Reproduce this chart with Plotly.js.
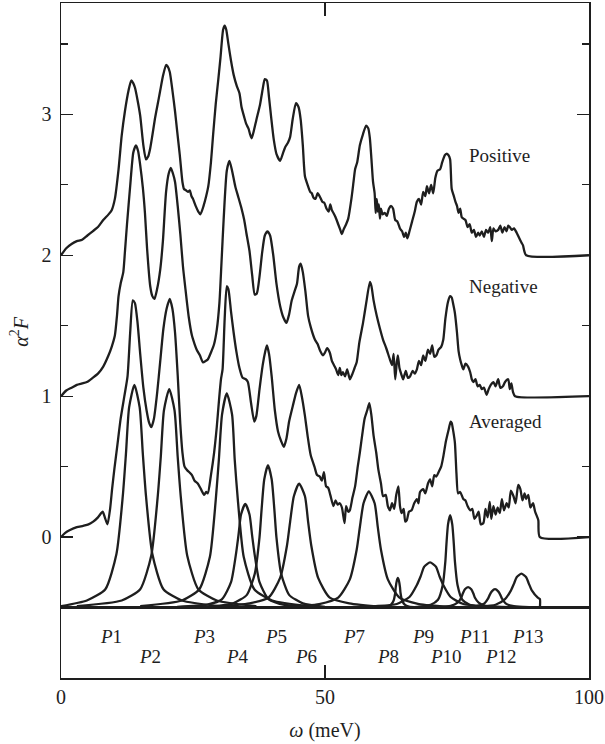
<!DOCTYPE html>
<html>
<head>
<meta charset="utf-8">
<script src="https://cdn.plot.ly/plotly-3.0.1.min.js"></script>
<style>html,body{margin:0;padding:0;background:#fff;}#chart{width:605px;height:744px;}</style>
</head>
<body>
<div id="chart"></div>
<script>
// ---- Data ----
// Spectrum "Positive" (offset +2)
const posX = [0,1,2,3,4,5,6,7,8,9,9.6,10.2,10.9,11.5,12.1,12.8,13.3,13.7,14.0,14.5,15.0,15.6,16.1,16.5,16.9,17.3,17.8,18.3,18.75,19.3,19.9,20.2,20.6,21.1,21.6,22.0,22.5,23.0,23.3,23.7,24.1,24.4,24.7,25.0,25.5,26.0,26.4,27.0,27.5,27.9,28.4,28.8,29.3,29.8,30.2,30.7,31.0,31.3,31.7,32.2,32.7,33.3,33.8,34.2,34.7,35.1,35.5,35.8,36.1,36.5,37.0,37.7,38.2,38.6,39.0,39.4,39.8,40.3,40.8,41.5,42.0,42.5,43.0,43.4,43.9,44.5,45.0,45.4,45.8,46.2,46.7,47.2,47.5,47.8,48.2,48.6,49.1,49.5,49.9,50.3,50.7,51.0,51.3,51.6,52.0,52.5,52.9,53.2,53.5,54.0,54.4,55.0,55.4,55.7,56.1,56.6,57.2,57.8,58.2,58.5,58.8,59.1,59.4,59.6,59.8,60.0,60.2,60.4,60.6,60.9,61.3,61.7,62.1,62.5,62.9,63.3,63.7,64.2,64.6,65.0,65.3,65.6,66.0,66.5,67.0,67.4,67.8,68.2,68.6,69.0,69.3,69.7,70.1,70.5,70.9,71.3,71.8,72.2,72.7,73.0,73.4,73.7,74.0,74.4,74.7,75.0,75.3,75.6,75.9,76.2,76.6,77.0,77.4,77.8,78.2,78.6,79.0,79.3,79.7,80.1,80.5,80.9,81.3,81.6,81.9,82.3,82.8,83.2,83.6,84.0,84.4,84.7,85.0,85.4,85.8,86.3,86.8,87.2,87.5,88.1,100];
const posY = [2.00,2.05,2.08,2.10,2.11,2.14,2.17,2.20,2.25,2.29,2.32,2.40,2.61,2.85,3.02,3.17,3.24,3.22,3.19,3.10,2.99,2.78,2.68,2.70,2.76,2.85,2.97,3.07,3.16,3.27,3.35,3.34,3.30,3.17,3.02,2.88,2.71,2.52,2.47,2.46,2.45,2.46,2.42,2.40,2.35,2.31,2.29,2.35,2.42,2.49,2.66,2.85,3.07,3.25,3.40,3.60,3.63,3.60,3.50,3.38,3.28,3.20,3.15,3.05,2.98,2.93,2.90,2.86,2.83,2.88,2.96,3.07,3.18,3.25,3.24,3.12,2.98,2.82,2.72,2.67,2.72,2.77,2.80,2.84,2.97,3.08,3.05,2.96,2.78,2.56,2.50,2.45,2.44,2.41,2.40,2.44,2.41,2.38,2.37,2.33,2.31,2.36,2.32,2.30,2.27,2.22,2.18,2.15,2.18,2.22,2.26,2.40,2.52,2.61,2.66,2.78,2.86,2.92,2.90,2.83,2.68,2.52,2.44,2.30,2.40,2.31,2.36,2.26,2.33,2.29,2.30,2.28,2.33,2.35,2.33,2.25,2.24,2.19,2.17,2.13,2.16,2.12,2.17,2.24,2.31,2.38,2.40,2.36,2.45,2.42,2.49,2.44,2.50,2.44,2.55,2.60,2.61,2.66,2.71,2.72,2.71,2.68,2.47,2.42,2.38,2.35,2.30,2.33,2.27,2.26,2.25,2.20,2.22,2.16,2.18,2.13,2.16,2.14,2.17,2.13,2.18,2.16,2.20,2.10,2.19,2.17,2.18,2.21,2.16,2.20,2.17,2.21,2.20,2.18,2.19,2.16,2.12,2.09,2.07,2.00,2.00];

// Spectrum "Negative" (offset +1)
const negX = [0,1,2,3,4,4.9,6,7,8,9,9.6,10.2,10.6,10.9,11.3,11.8,12.1,12.5,13.1,13.7,14.2,14.6,15.0,15.5,15.9,16.3,16.9,17.3,17.7,18.2,18.8,19.3,19.9,20.4,20.8,21.2,21.6,22.1,22.6,23.1,23.6,24.2,24.8,25.3,25.7,26.3,26.9,27.4,27.8,28.4,29.0,29.5,30.0,30.4,30.8,31.4,31.9,32.4,33.0,33.6,34.2,34.7,35.1,35.7,36.2,36.7,37.1,37.6,38.1,38.6,39.1,39.6,40.2,40.8,41.5,42.1,42.7,43.2,43.7,44.2,44.7,45.1,45.4,45.8,46.3,46.8,47.3,48.1,48.6,49.1,49.6,50.0,50.4,50.9,51.3,51.7,52.1,52.5,52.8,53.1,53.4,53.8,54.2,54.7,55.1,55.6,56.0,56.5,57.2,57.8,58.5,58.8,59.2,59.8,60.4,61.0,61.6,62.3,62.7,63.0,63.3,63.6,63.8,64.1,64.5,64.8,65.3,65.7,66.1,66.6,67.0,67.4,67.8,68.2,68.6,69.0,69.5,69.9,70.3,70.7,71.1,71.5,72.0,72.4,72.8,73.3,73.7,74.0,74.3,74.6,75.0,75.3,75.6,75.9,76.2,76.6,77.1,77.5,77.8,78.1,78.5,78.9,79.3,79.7,80.1,80.6,81.0,81.4,81.9,82.3,82.8,83.2,83.7,84.1,84.7,85.0,85.3,85.6,86.0,100];
const negY = [1.00,1.04,1.06,1.08,1.09,1.10,1.13,1.16,1.21,1.29,1.35,1.43,1.57,1.71,1.80,1.88,2.02,2.22,2.49,2.73,2.78,2.74,2.64,2.48,2.30,2.05,1.78,1.71,1.69,1.76,1.90,2.10,2.45,2.58,2.62,2.58,2.52,2.35,2.15,1.92,1.75,1.56,1.43,1.37,1.33,1.29,1.24,1.25,1.26,1.31,1.37,1.47,1.66,1.95,2.25,2.60,2.67,2.60,2.49,2.41,2.33,2.25,2.16,2.03,1.86,1.72,1.73,1.85,2.02,2.14,2.17,2.14,2.00,1.80,1.64,1.56,1.52,1.58,1.68,1.74,1.80,1.92,1.94,1.88,1.74,1.57,1.49,1.40,1.37,1.32,1.29,1.31,1.34,1.31,1.25,1.22,1.19,1.15,1.20,1.15,1.17,1.14,1.19,1.12,1.15,1.20,1.24,1.38,1.52,1.66,1.81,1.78,1.68,1.57,1.48,1.40,1.34,1.26,1.22,1.30,1.12,1.24,1.29,1.20,1.15,1.12,1.18,1.13,1.14,1.18,1.16,1.19,1.25,1.22,1.29,1.25,1.33,1.30,1.36,1.28,1.29,1.33,1.35,1.40,1.55,1.67,1.71,1.70,1.65,1.59,1.45,1.32,1.26,1.22,1.19,1.23,1.21,1.17,1.12,1.10,1.12,1.07,1.08,1.05,1.06,1.01,1.05,1.08,1.10,1.07,1.12,1.06,1.07,1.10,1.12,1.05,1.09,1.03,1.00,1.00];

// Spectrum "Averaged" (offset 0)
const avgX = [0,0.8,1.7,3,4.2,5.2,6.1,7.0,7.6,7.9,8.3,8.8,9.3,9.7,10.1,10.7,11.3,12.0,12.6,13.1,13.6,14.0,14.5,15.0,15.6,16.2,16.7,17.1,17.6,18.2,18.8,19.4,20.0,20.6,21.1,21.6,22.1,22.6,23.0,23.4,24.0,24.3,24.8,25.3,25.9,26.5,27.1,27.5,27.8,28.4,29.0,29.5,29.9,30.3,30.6,31.0,31.4,31.7,32.2,32.7,33.2,33.8,34.4,35.0,35.4,36.0,36.6,37.0,37.6,38.2,38.7,39.0,39.4,39.9,40.5,41.1,41.7,42.2,42.7,43.2,43.9,44.5,45.1,45.6,46.2,46.7,47.3,48.0,48.5,49.0,49.4,49.8,50.2,50.6,51.0,51.6,52.0,52.4,52.8,53.2,53.7,54.0,54.4,54.7,55.2,55.7,56.2,56.6,57.1,57.5,58.0,58.4,58.8,59.2,59.7,60.1,60.6,61.0,61.5,61.9,62.3,62.7,63.1,63.5,63.9,64.2,64.5,64.9,65.2,65.5,65.9,66.4,66.9,67.4,67.7,68.0,68.6,69.0,69.5,69.9,70.3,70.7,71.1,71.5,72.0,72.4,72.9,73.4,73.8,74.0,74.3,74.6,74.9,75.2,75.6,76.2,76.6,77.0,77.5,77.9,78.3,78.7,79.1,79.5,80.0,80.4,80.8,81.2,81.5,81.9,82.3,82.7,83.1,83.5,83.9,84.4,84.8,85.2,85.7,86.1,86.6,87.0,87.4,87.8,88.1,88.5,88.9,89.4,89.8,90.4,90.7,100];
const avgY = [0.00,0.03,0.05,0.07,0.08,0.09,0.11,0.14,0.17,0.18,0.14,0.09,0.20,0.35,0.48,0.66,0.84,1.00,1.14,1.45,1.68,1.66,1.52,1.30,1.06,0.90,0.81,0.78,0.84,1.02,1.25,1.48,1.62,1.69,1.62,1.45,1.15,0.80,0.60,0.50,0.47,0.46,0.44,0.40,0.38,0.34,0.30,0.32,0.31,0.44,0.60,0.78,0.96,1.12,1.19,1.55,1.78,1.76,1.60,1.45,1.32,1.20,1.13,1.12,1.10,0.95,0.82,0.86,1.05,1.22,1.32,1.36,1.30,1.14,0.90,0.75,0.68,0.64,0.70,0.82,0.93,1.02,1.08,1.00,0.86,0.72,0.58,0.50,0.44,0.43,0.40,0.46,0.36,0.35,0.30,0.22,0.26,0.23,0.24,0.21,0.10,0.22,0.18,0.19,0.28,0.36,0.50,0.60,0.74,0.84,0.90,0.95,0.86,0.72,0.60,0.48,0.38,0.29,0.30,0.22,0.19,0.24,0.20,0.30,0.36,0.22,0.17,0.20,0.11,0.12,0.18,0.19,0.24,0.27,0.24,0.32,0.34,0.31,0.38,0.41,0.36,0.44,0.43,0.46,0.50,0.57,0.68,0.76,0.82,0.81,0.75,0.67,0.45,0.31,0.32,0.27,0.26,0.22,0.19,0.20,0.13,0.15,0.18,0.09,0.10,0.20,0.14,0.25,0.13,0.22,0.16,0.21,0.17,0.27,0.19,0.24,0.21,0.33,0.29,0.24,0.37,0.34,0.26,0.31,0.27,0.30,0.21,0.24,0.18,0.12,0.00,0.00];

// Fitted peak components P1..P13 (baseline -0.5)
const peakNames = ['P1','P2','P3','P4','P5','P6','P7','P8','P9','P10','P11','P12','P13'];
const peakX = [
  [0,4.9,8.4,10.5,11.7,12.3,12.9,13.9,14.9,15.5,16.1,17.3,19.4,22.9,30],
  [3,11.5,15.0,17.1,18.3,18.9,19.5,20.5,21.5,22.1,22.7,23.9,26.0,29.5,37],
  [15,22.9,26.2,28.2,29.3,29.9,30.5,31.4,32.4,32.9,33.5,34.6,36.6,40.0,47],
  [22,27.7,30.5,32.2,33.1,33.6,34.1,34.9,35.7,36.2,36.7,37.6,39.3,42.1,48],
  [28,32.6,35.2,36.7,37.6,38.0,38.5,39.2,39.9,40.4,40.8,41.7,43.2,45.8,50],
  [29,35.7,39.3,41.5,42.8,43.4,44.1,45.1,46.2,46.8,47.4,48.7,50.9,54.6,61],
  [42,48.9,52.5,54.7,56.0,56.6,57.3,58.3,59.4,60.0,60.6,61.9,64.1,67.8,74],
  [60,61.7,62.5,63.0,63.3,63.4,63.6,63.8,64.0,64.2,64.3,64.6,65.1,65.9,67.5],
  [52,59.6,63.6,66.0,67.4,68.1,68.8,69.9,71.0,71.7,72.4,73.8,76.2,80.2,88],
  [66,70.0,71.4,72.3,72.8,73.0,73.3,73.7,74.1,74.4,74.6,75.1,76.0,77.4,81],
  [68,71.7,73.8,75.1,75.8,76.1,76.5,77.1,77.7,78.1,78.4,79.1,80.4,82.5,86],
  [73,76.8,78.9,80.2,80.9,81.2,81.6,82.2,82.8,83.2,83.5,84.2,85.5,87.6,90.7],
  [74,79.1,82.3,84.1,85.2,85.8,86.3,87.2,88.1,88.6,89.2,90.3,90.7,90.7]
];
const peakY = [
  [-0.49,-0.45,-0.37,-0.12,0.29,0.59,0.92,1.08,0.92,0.59,0.29,-0.12,-0.37,-0.45,-0.49],
  [-0.49,-0.45,-0.37,-0.13,0.28,0.57,0.90,1.05,0.90,0.57,0.28,-0.13,-0.37,-0.45,-0.49],
  [-0.49,-0.45,-0.37,-0.14,0.26,0.55,0.87,1.02,0.87,0.55,0.26,-0.14,-0.37,-0.45,-0.49],
  [-0.495,-0.48,-0.44,-0.32,-0.13,0.01,0.16,0.235,0.16,0.01,-0.13,-0.32,-0.44,-0.48,-0.495],
  [-0.495,-0.47,-0.41,-0.26,0.0,0.2,0.41,0.51,0.41,0.2,0.0,-0.26,-0.41,-0.47,-0.495],
  [-0.495,-0.47,-0.43,-0.29,-0.06,0.11,0.29,0.38,0.29,0.11,-0.06,-0.29,-0.43,-0.47,-0.495],
  [-0.495,-0.475,-0.43,-0.30,-0.09,0.07,0.24,0.325,0.24,0.07,-0.09,-0.30,-0.43,-0.475,-0.495],
  [-0.5,-0.494,-0.48,-0.45,-0.395,-0.355,-0.31,-0.29,-0.31,-0.355,-0.395,-0.45,-0.48,-0.494,-0.5],
  [-0.5,-0.49,-0.475,-0.425,-0.34,-0.28,-0.21,-0.18,-0.21,-0.28,-0.34,-0.425,-0.475,-0.49,-0.5],
  [-0.5,-0.48,-0.445,-0.34,-0.17,-0.05,0.09,0.155,0.09,-0.05,-0.17,-0.34,-0.445,-0.48,-0.5],
  [-0.5,-0.496,-0.488,-0.465,-0.43,-0.40,-0.37,-0.355,-0.37,-0.40,-0.43,-0.465,-0.488,-0.496,-0.5],
  [-0.5,-0.496,-0.489,-0.47,-0.435,-0.41,-0.385,-0.37,-0.385,-0.41,-0.435,-0.47,-0.489,-0.496,-0.5],
  [-0.5,-0.493,-0.48,-0.44,-0.38,-0.33,-0.285,-0.26,-0.285,-0.33,-0.38,-0.43,-0.44,-0.5]
];
const baseX = [0, 100];
const baseY = [-0.5, -0.5];

const seriesNames = ['Positive', 'Negative', 'Averaged'];
const xTicks = [0, 50, 100];
const yTicks = [0, 1, 2, 3];
const yMinorTicks = [0.5, 1.5, 2.5, 3.5];

// ---- Drawing ----
const INK = '#1e1e1e';
const FONT = '"Liberation Serif", "DejaVu Serif", serif';
const lineStyle = {color: INK, width: 2.3, shape: 'spline', smoothing: 0.6};

const traces = [];
traces.push({x: baseX, y: baseY, mode: 'lines', line: {color: INK, width: 3}, hoverinfo: 'skip'});
peakX.forEach((xs, i) => {
  traces.push({x: xs, y: peakY[i], name: peakNames[i], mode: 'lines', line: lineStyle, hoverinfo: 'skip'});
});
[[posX, posY], [negX, negY], [avgX, avgY]].forEach((d, i) => {
  traces.push({x: d[0], y: d[1], name: seriesNames[i], mode: 'lines', line: lineStyle, hoverinfo: 'skip'});
});

// label placement (data coordinates)
const seriesLabelX = 76.9;
const seriesLabelY = [2.71, 1.775, 0.817];
const peakLabelX = [9.5, 16.9, 27.0, 33.4, 40.7, 46.4, 55.5, 61.9, 68.5, 72.9, 78.4, 83.3, 88.4];
const rowY = [-0.705, -0.848];

const annotations = [];
seriesNames.forEach((s, i) => {
  annotations.push({x: seriesLabelX, y: seriesLabelY[i], xref: 'x', yref: 'y', text: s, showarrow: false,
    xanchor: 'left', yanchor: 'middle', font: {family: FONT, size: 19, color: INK}});
});
peakNames.forEach((p, i) => {
  annotations.push({x: peakLabelX[i], y: rowY[i % 2], xref: 'x', yref: 'y',
    text: '<i>P</i>' + p.slice(1), showarrow: false, xanchor: 'center', yanchor: 'middle',
    font: {family: FONT, size: 19, color: INK}});
});
// y-axis title, placed as rotated text beside the axis
annotations.push({x: -0.0795, y: 0.513, xref: 'paper', yref: 'paper', text: '<i>α</i><sup>2</sup><i>F</i>',
  textangle: -90, showarrow: false, xanchor: 'center', yanchor: 'middle',
  font: {family: FONT, size: 20, color: INK}});

const layout = {
  width: 605, height: 744,
  margin: {l: 61, r: 16, t: 3, b: 66, pad: 0},
  paper_bgcolor: '#ffffff', plot_bgcolor: '#ffffff',
  showlegend: false,
  font: {family: FONT, size: 20, color: INK},
  xaxis: {
    range: [0, 100], tickmode: 'array', tickvals: xTicks, ticktext: xTicks.map(String),
    ticks: 'inside', ticklen: 13, tickwidth: 1.3, tickcolor: INK,
    showline: true, linecolor: INK, linewidth: 1.5, mirror: 'ticks',
    showgrid: false, zeroline: false,
    tickfont: {family: FONT, size: 20, color: INK},
    title: {text: '<i>ω</i> (meV)', standoff: 16, font: {family: FONT, size: 20, color: INK}}
  },
  yaxis: {
    range: [-1, 3.79], tickmode: 'array', tickvals: yTicks, ticktext: yTicks.map(String),
    ticks: 'inside', ticklen: 12, tickwidth: 1.3, tickcolor: INK,
    minor: {tickmode: 'array', tickvals: yMinorTicks, ticks: 'inside', ticklen: 7, tickwidth: 1.3, tickcolor: INK},
    showline: true, linecolor: INK, linewidth: 1.5, mirror: 'ticks',
    showgrid: false, zeroline: false, ticklabelstandoff: 4,
    tickfont: {family: FONT, size: 20, color: INK}
  },
  annotations: annotations
};

Plotly.newPlot('chart', traces, layout, {staticPlot: true, displayModeBar: false});
</script>
</body>
</html>
